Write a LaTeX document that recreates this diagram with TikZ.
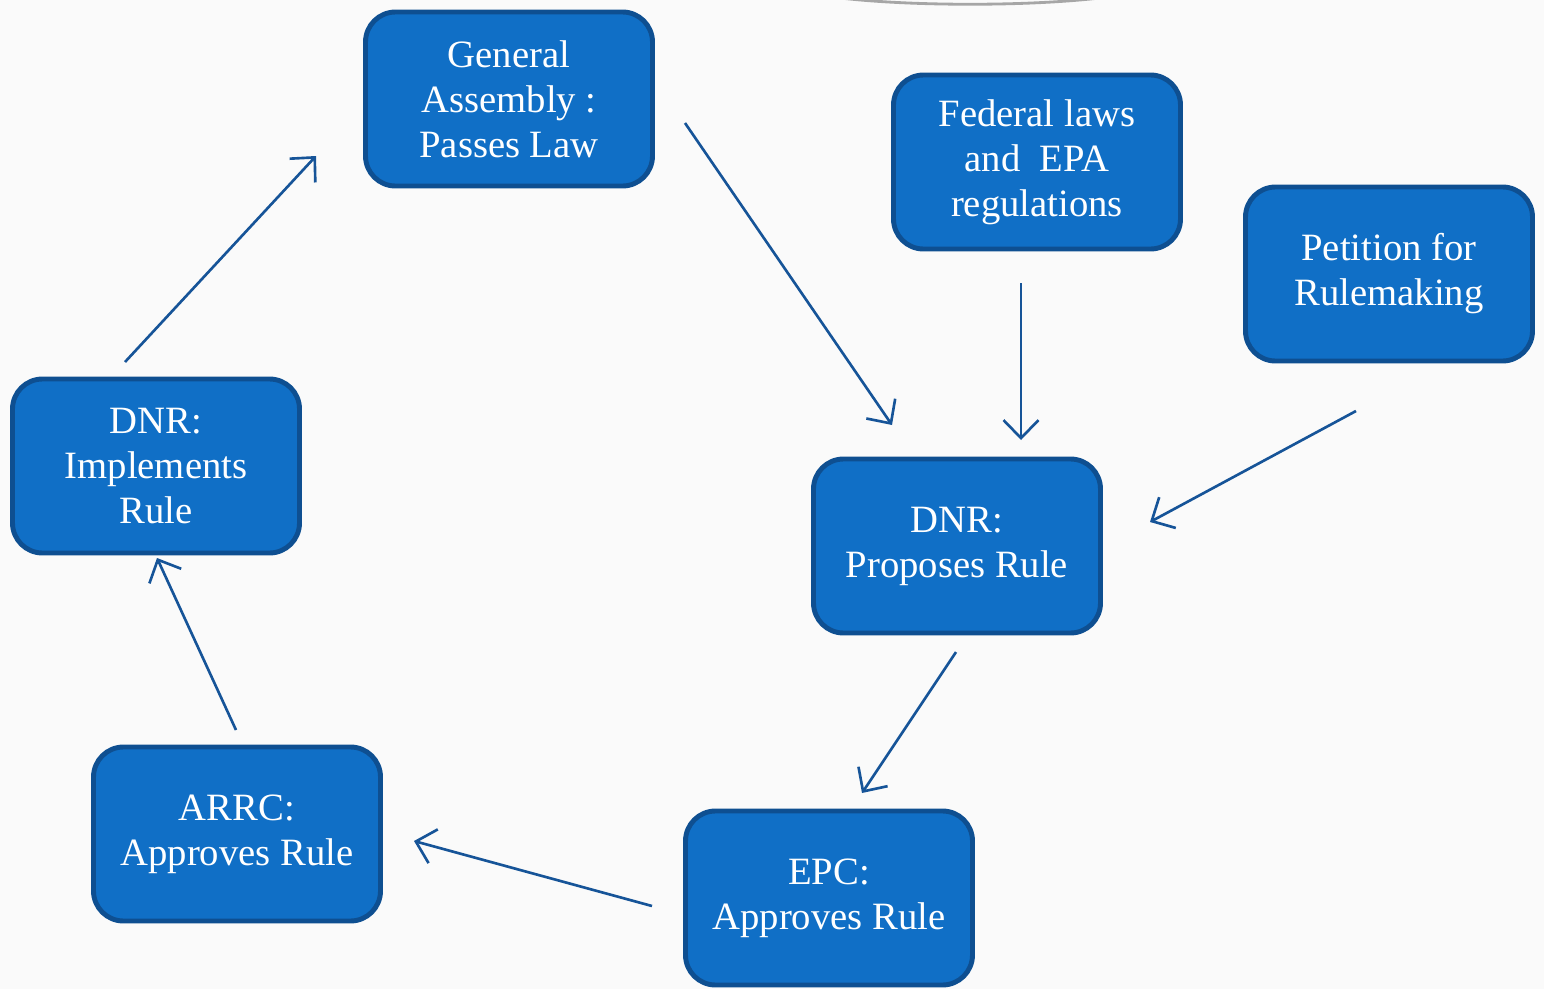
\documentclass[tikz,border=0pt]{standalone}
\usepackage{fontspec}
\setmainfont{Liberation Serif}
\usetikzlibrary{arrows.meta,positioning}

\definecolor{boxfill}{RGB}{16,111,198}
\definecolor{boxline}{RGB}{14,79,145}
\definecolor{arrowblue}{RGB}{22,84,152}
\definecolor{paper}{RGB}{250,250,250}

\tikzset{
  stagebox/.style={draw=boxline, line width=1.4pt, fill=boxfill, rounded corners=0.3cm,
                   minimum width=2.87cm, minimum height=1.74cm, align=center,
                   execute at begin node={\rule{0pt}{0.38cm}},
                   text=white, font=\fontsize{11}{12.8}\selectfont},
  flow/.style={arrowblue, line width=0.75pt, -{Straight Barb[length=1.8mm,width=3.5mm]}}
}

\begin{document}
\begin{tikzpicture}
  % Page and background
  \useasboundingbox (0,0) rectangle (15.44,9.89);
  \clip (0,0) rectangle (15.44,9.89);
  \fill[paper] (0,0) rectangle (15.44,9.89);
  \draw[gray!70, line width=0.8pt] (8.25,9.93) .. controls (9.0,9.82) and (10.4,9.82) .. (11.15,9.93);

  % Boxes
  \node[stagebox] (ga)   at (5.09,8.90)  {General\\Assembly :\\Passes Law};
  \node[stagebox] (fed)  at (10.37,8.27) {Federal laws\\and\ \ EPA\\regulations};
  \node[stagebox] (pet)  at (13.89,7.15) {Petition for\\Rulemaking};
  \node[stagebox] (dnrp) at (9.57,4.43)  {DNR:\\Proposes Rule};
  \node[stagebox] (dnri) at (1.56,5.23)  {DNR:\\Implements\\Rule};
  \node[stagebox] (arrc) at (2.37,1.55)  {ARRC:\\Approves Rule};
  \node[stagebox] (epc)  at (8.29,0.91)  {EPC:\\Approves Rule};

  % Arrow ends
  \coordinate (ga-out)   at (6.85,8.66);
  \coordinate (dnrp-a)   at (8.92,5.64);
  \coordinate (fed-out)  at (10.21,7.06);
  \coordinate (dnrp-b)   at (10.21,5.49);
  \coordinate (pet-out)  at (13.56,5.78);
  \coordinate (dnrp-c)   at (11.50,4.67);
  \coordinate (dnrp-out) at (9.56,3.37);
  \coordinate (epc-in)   at (8.62,1.96);
  \coordinate (epc-out)  at (6.52,0.83);
  \coordinate (arrc-in)  at (4.14,1.48);
  \coordinate (arrc-out) at (2.36,2.59);
  \coordinate (dnri-in)  at (1.57,4.31);
  \coordinate (dnri-out) at (1.25,6.27);
  \coordinate (ga-in)    at (3.16,8.33);

  % Arrows
  \draw[flow] (ga-out) -- (dnrp-a);
  \draw[flow] (fed-out) -- (dnrp-b);
  \draw[flow] (pet-out) -- (dnrp-c);
  \draw[flow] (dnrp-out) -- (epc-in);
  \draw[flow] (epc-out) -- (arrc-in);
  \draw[flow] (arrc-out) -- (dnri-in);
  \draw[flow] (dnri-out) -- (ga-in);
\end{tikzpicture}
\end{document}
